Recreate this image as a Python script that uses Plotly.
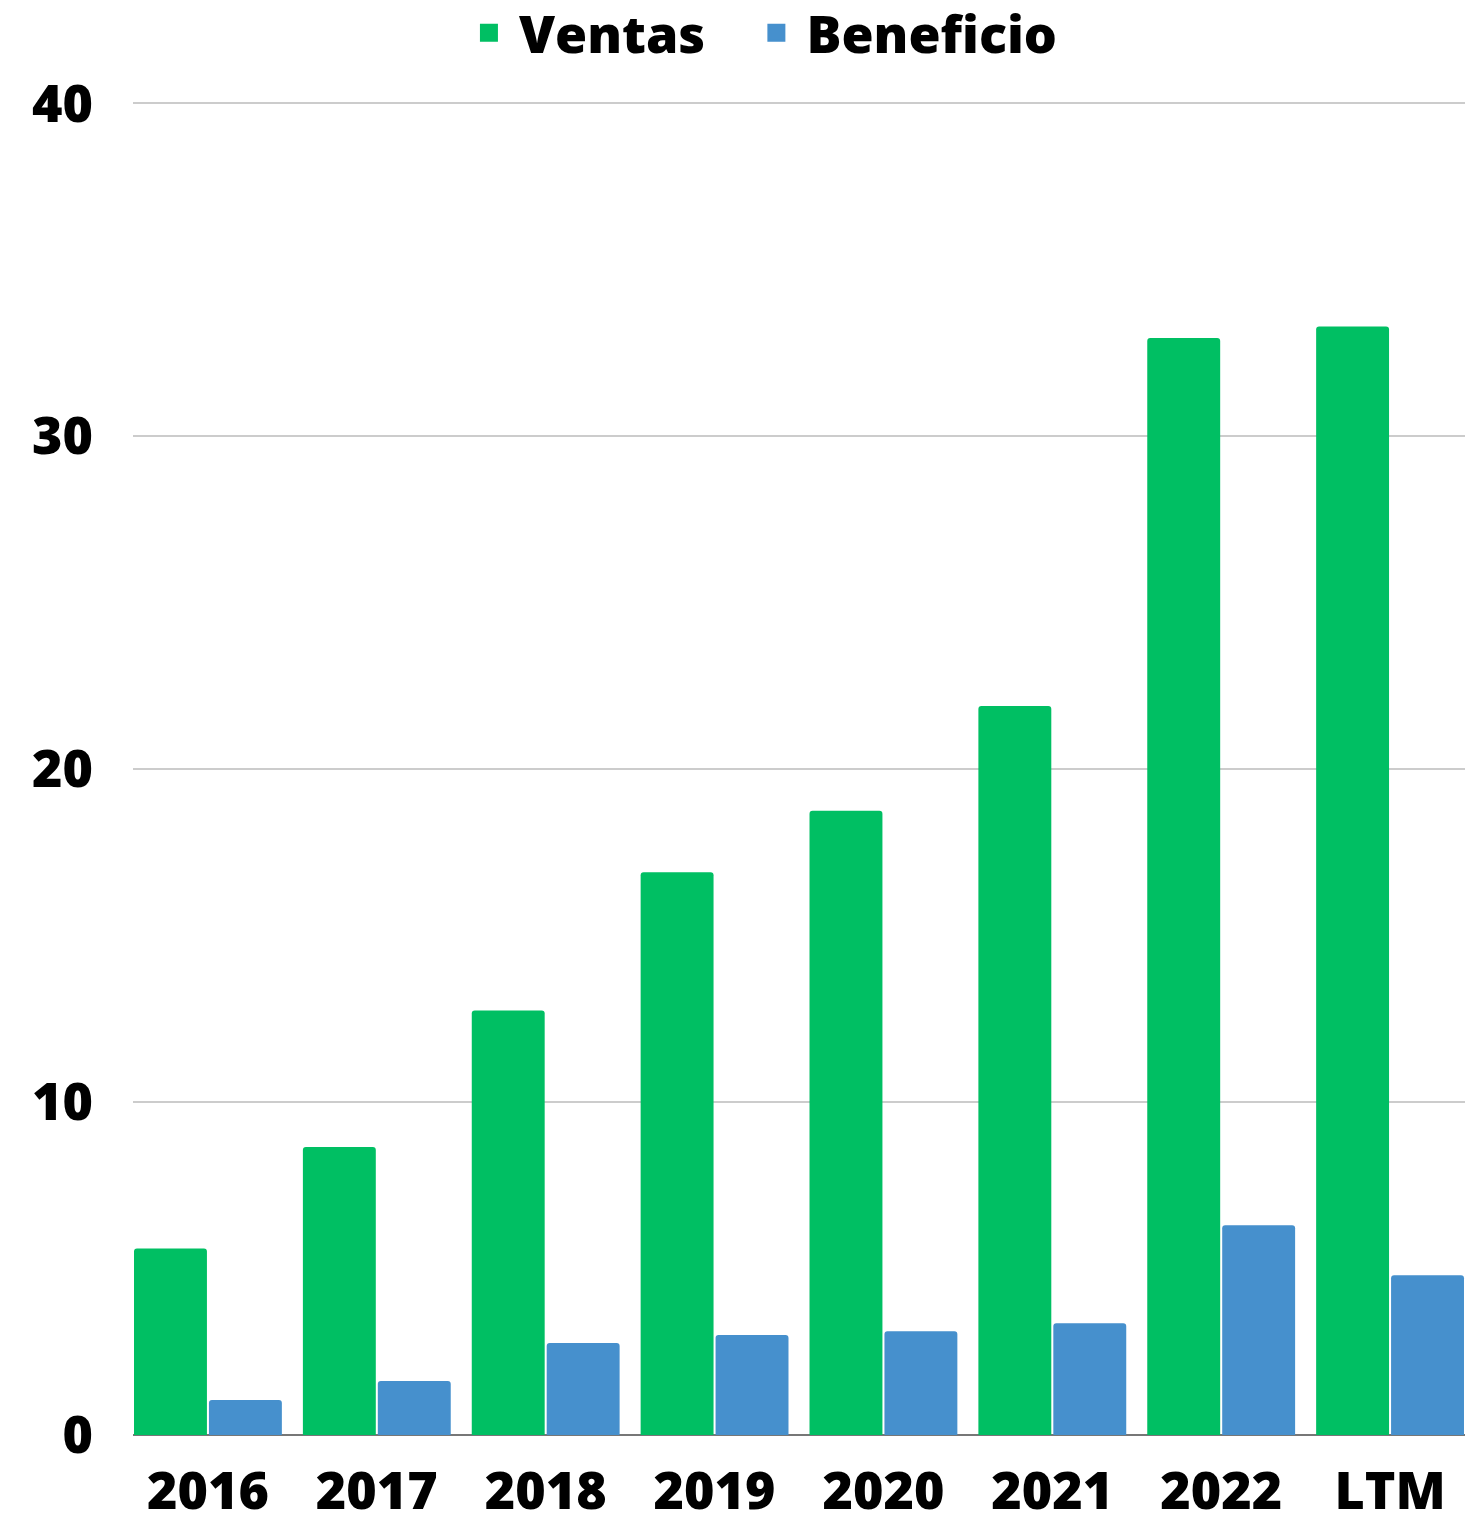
import plotly.graph_objects as go

categories = ["2016", "2017", "2018", "2019", "2020", "2021", "2022", "LTM"]
ventas = [5.6, 8.65, 12.75, 16.9, 18.75, 21.9, 32.95, 33.3]
beneficio = [1.05, 1.62, 2.76, 3.0, 3.12, 3.36, 6.3, 4.8]
y_ticks = [0, 10, 20, 30, 40]

GREEN = "#00BF63"
BLUE = "#4690CD"
FONT = dict(family="Open Sans", size=52, color="black", weight=800)

fig = go.Figure()
fig.add_trace(go.Bar(x=categories, y=ventas, marker=dict(color=GREEN, line=dict(width=0)),
                     name="Ventas", showlegend=False))
fig.add_trace(go.Bar(x=categories, y=beneficio, marker=dict(color=BLUE, line=dict(width=0)),
                     name="Beneficio", showlegend=False))
# legend entries
fig.add_trace(go.Scatter(x=[None], y=[None], mode="markers", name="Ventas", legend="legend",
                         marker=dict(symbol="square", size=16, color=GREEN,
                                     line=dict(color=GREEN, width=2))))
fig.add_trace(go.Scatter(x=[None], y=[None], mode="markers", name="Beneficio", legend="legend2",
                         marker=dict(symbol="square", size=16, color=BLUE,
                                     line=dict(color=BLUE, width=2))))

gap = 0.1125
ymax = 40.1
leg_common = dict(orientation="h", xanchor="left", y=1 - 33 / 1516, yanchor="middle",
                  yref="container", itemwidth=50, font=FONT, itemclick=False,
                  bgcolor="rgba(0,0,0,0)")
fig.update_layout(
    width=1479, height=1516,
    margin=dict(l=133, r=14, t=100, b=81),
    paper_bgcolor="white", plot_bgcolor="white",
    barmode="group", bargap=gap, bargroupgap=0.027, barcornerradius=3,
    font=FONT,
    legend=dict(x=0.2447, **leg_common),
    legend2=dict(x=0.4605, **leg_common),
    xaxis=dict(type="category", range=[-0.5 + gap / 2, 7.5 - gap / 2],
               showgrid=False, showline=False, ticks="", tickfont=FONT,
               ticklabelstandoff=21, automargin=False),
    yaxis=dict(range=[0, ymax], tickvals=y_ticks, showgrid=True, gridcolor="#CCCCCC",
               gridwidth=2, zeroline=True, zerolinecolor="#777777", zerolinewidth=2,
               showline=False, ticks="", tickfont=FONT, ticklabelstandoff=39,
               automargin=False),
)

fig.write_html("out.html")
